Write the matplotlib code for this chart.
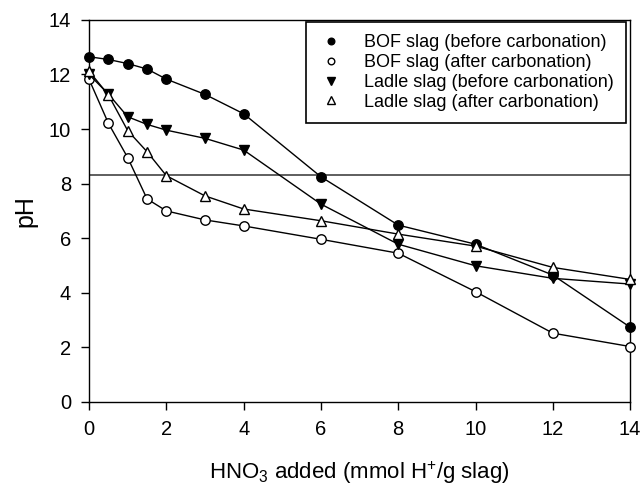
import numpy as np
import matplotlib
matplotlib.use("Agg")
import matplotlib.pyplot as plt

plt.rcParams['font.family'] = ['Liberation Sans', 'DejaVu Sans']
plt.rcParams['mathtext.fontset'] = 'custom'
plt.rcParams['mathtext.rm'] = 'Liberation Sans'
plt.rcParams['mathtext.it'] = 'Liberation Sans:italic'

### titration data
x_bof_before = [0, 0.5, 1, 1.5, 2, 3, 4, 6, 8, 10, 12, 14]
ph_bof_before = [12.65, 12.55, 12.4, 12.2, 11.83, 11.27, 10.56, 8.25, 6.48, 5.78, 4.65, 2.74]

x_bof_after = [0, 0.5, 1, 1.5, 2, 3, 4, 6, 8, 10, 12, 14]
ph_bof_after = [11.82, 10.21, 8.95, 7.44, 7.0, 6.67, 6.45, 5.96, 5.45, 4.04, 2.52, 2.03]

x_ladle_before = [0, 0.5, 1, 1.5, 2, 3, 4, 6, 8, 10, 12, 14]
ph_ladle_before = [12.0, 11.28, 10.45, 10.17, 9.96, 9.66, 9.23, 7.25, 5.78, 4.99, 4.53, 4.32]

x_ladle_after = [0, 0.5, 1, 1.5, 2, 3, 4, 6, 8, 10, 12, 14]
ph_ladle_after = [12.12, 11.25, 9.94, 9.17, 8.29, 7.55, 7.07, 6.64, 6.15, 5.71, 4.93, 4.49]

ref_ph = 8.3

labels = ['BOF slag (before carbonation)', 'BOF slag (after carbonation)',
          'Ladle slag (before carbonation)', 'Ladle slag (after carbonation)']

fig = plt.figure(figsize=(6.41, 4.86), dpi=100)
ax = fig.add_axes([0.139, 0.173, 0.844, 0.786])

ms = 6.8
ax.plot(x_bof_before, ph_bof_before, 'k-', lw=1, marker='o', ms=ms,
        mfc='black', mec='black', label=labels[0], zorder=3, clip_on=False)
ax.plot(x_bof_after, ph_bof_after, 'k-', lw=1, marker='o', ms=ms,
        mfc='white', mec='black', label=labels[1], zorder=3, clip_on=False)
ax.plot(x_ladle_before, ph_ladle_before, 'k-', lw=1, marker='v', ms=ms + 0.5,
        mfc='black', mec='black', label=labels[2], zorder=3, clip_on=False)
ax.plot(x_ladle_after, ph_ladle_after, 'k-', lw=1, marker='^', ms=ms + 0.5,
        mfc='white', mec='black', label=labels[3], zorder=3, clip_on=False)

ax.axhline(ref_ph, color='#333333', lw=1.1, zorder=2)

ax.set_xlim(0, 14)
ax.set_ylim(0, 14)
ax.set_xticks(np.arange(0, 15, 2))
ax.set_yticks(np.arange(0, 15, 2))
ax.tick_params(direction='out', length=6, width=1, labelsize=14.5, pad=7,
               top=False, right=False)
for s in ax.spines.values():
    s.set_linewidth(1)

ax.set_xlabel(r'HNO$_3$ added (mmol H$^{+}$/g slag)', fontsize=16, labelpad=15)
ax.set_ylabel('pH', fontsize=18, labelpad=8)

# legend: markers only, no lines
handles, labs = ax.get_legend_handles_labels()
leg = ax.legend(handles, labs, loc='upper right', bbox_to_anchor=(0.993, 0.995),
                borderaxespad=0, fontsize=13, frameon=True, fancybox=False,
                edgecolor='black', framealpha=1, handlelength=1.4,
                handletextpad=1.1, labelspacing=0.15, borderpad=0.7,
                markerscale=0.7)
leg.get_frame().set_linewidth(1.2)
for h in leg.legend_handles:
    h.set_linestyle('None')

fig.savefig('out.png', dpi=100)
